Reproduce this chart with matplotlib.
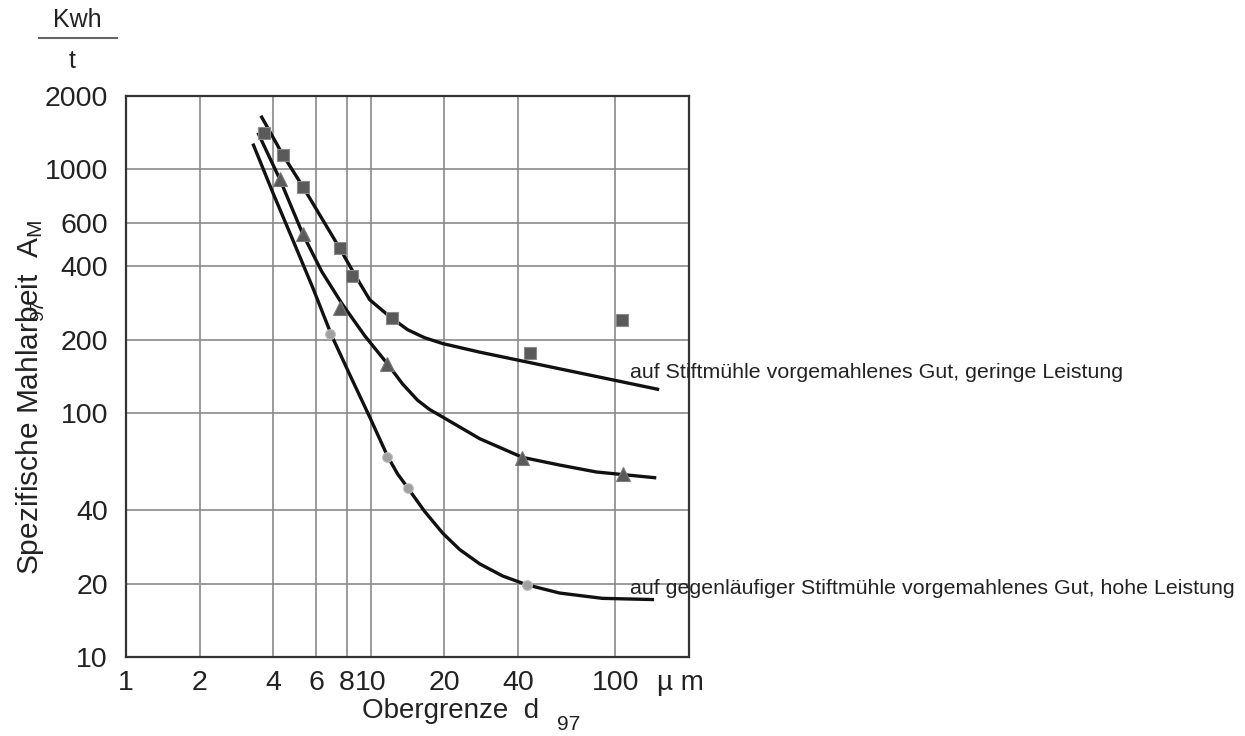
import matplotlib
matplotlib.use("Agg")
import matplotlib.pyplot as plt
from matplotlib.lines import Line2D

plt.rcParams['font.family'] = ['Liberation Sans', 'DejaVu Sans']
plt.rcParams['mathtext.fontset'] = 'custom'
plt.rcParams['mathtext.rm'] = 'Liberation Sans'
plt.rcParams['mathtext.it'] = 'Liberation Sans'

# ---- data ----
x_ticks = [1, 2, 4, 6, 8, 10, 20, 40, 100]
x_tick_labels = ["1", "2", "4", "6", "8", "10", "20", "40", "100"]
y_ticks = [10, 20, 40, 100, 200, 400, 600, 1000, 2000]
y_tick_labels = ["10", "20", "40", "100", "200", "400", "600", "1000", "2000"]

# curve 1: pre-ground on pin mill, low throughput (upper)
curve_low_x = [3.56, 4.37, 5.28, 7.47, 8.69, 9.91, 11.96, 14.16, 16.6, 19.7, 27.9, 42.5, 101, 151]
curve_low_y = [1660, 1150, 850, 475, 364, 292, 249, 220, 204, 193, 178, 163, 136, 125]
# curve 2: middle
curve_mid_x = [3.46, 4.25, 5.28, 6.31, 7.62, 9.45, 11.73, 13.5, 15.55, 17.4, 19.7, 27.9,
               41.7, 59.1, 83.6, 147]
curve_mid_y = [1414, 913, 543, 381, 282, 208, 159, 131.8, 113, 103.6, 96.4, 78.6,
               65.9, 61.3, 57.4, 54.3]
# curve 3: counter-rotating pin mill, high throughput (lower)
curve_high_x = [3.30, 3.98, 4.80, 5.80, 6.93, 8.21, 9.91, 11.73, 12.89, 14.16, 16.6, 19.7,
                23.1, 27.9, 34.6, 43.3, 59.1, 88.5, 144]
curve_high_y = [1276, 804, 515, 327, 208, 144, 96.4, 66.5, 56.3, 49.5, 39.6, 32.2,
                27.6, 24.1, 21.5, 19.8, 18.3, 17.4, 17.2]

# measured points
sq_x = [3.66, 4.37, 5.28, 7.47, 8.37, 12.2, 44.6, 106.8]
sq_y = [1414, 1150, 850, 475, 367, 246, 177, 240]
tri_x = [4.25, 5.28, 7.47, 11.7, 41.7, 107.8]
tri_y = [913, 543, 271, 159, 65.3, 56.3]
circ_x = [6.80, 11.7, 14.2, 43.7]
circ_y = [212, 65.9, 49.5, 19.8]

label_low = "auf Stiftmühle vorgemahlenes Gut, geringe Leistung"
label_high = "auf gegenläufiger Stiftmühle vorgemahlenes Gut, hohe Leistung"

# ---- figure ----
W, H = 1245, 736
fig = plt.figure(figsize=(W / 100, H / 100), dpi=100)
ax = fig.add_axes([126 / W, 1 - 657 / H, (689 - 126) / W, (657 - 96) / H])
ax.set_xscale('log')
ax.set_yscale('log')
ax.set_xlim(1, 200)
ax.set_ylim(10, 2000)

ax.set_xticks(x_ticks)
ax.set_xticklabels(x_tick_labels)
ax.set_yticks(y_ticks)
ax.set_yticklabels(y_tick_labels)
ax.minorticks_off()
ax.tick_params(axis='both', length=0, labelsize=20.5, colors='#222222')
ax.tick_params(axis='x', pad=9)
ax.tick_params(axis='y', pad=13)
ax.grid(True, which='major', color='#8a8a8a', linewidth=1.2)
for s in ax.spines.values():
    s.set_color('#333333')
    s.set_linewidth(1.6)

for cx, cy in [(curve_low_x, curve_low_y), (curve_mid_x, curve_mid_y),
               (curve_high_x, curve_high_y)]:
    ax.plot(cx, cy, color='#111111', linewidth=2.4, solid_capstyle='butt',
            solid_joinstyle='round', zorder=3)

ax.plot(sq_x, sq_y, linestyle='none', marker='s', markersize=8,
        markerfacecolor='#5a5a5a', markeredgecolor='#8a8a8a', markeredgewidth=0.8, zorder=4)
ax.plot(tri_x, tri_y, linestyle='none', marker='^', markersize=10,
        markerfacecolor='#5a5a5a', markeredgecolor='#7a7a7a', markeredgewidth=0.8, zorder=4)
ax.plot(circ_x, circ_y, linestyle='none', marker='o', markersize=7,
        markerfacecolor='#a0a0a0', markeredgecolor='#bdbdbd', markeredgewidth=0.8, zorder=4)

# annotations for the curves
fig.text(630 / W, 1 - 372 / H, label_low, fontsize=15.4, color='#222222',
         ha='left', va='center')
fig.text(630 / W, 1 - 589 / H, label_high, fontsize=15.4, color='#222222',
         ha='left', va='center')

# unit "Kwh / t"
fig.text(77 / W, 1 - 20 / H, "Kwh", fontsize=18, color='#222222', ha='center', va='center')
fig.add_artist(Line2D([39 / W, 117 / W], [1 - 38 / H, 1 - 38 / H],
                      color='#666666', linewidth=1.5))
fig.text(72 / W, 1 - 61 / H, "t", fontsize=18, color='#222222', ha='center', va='center')

# y label
fig.text(30 / W, 1 - 397 / H, r"Spezifische Mahlarbeit  A$_\mathrm{M}$", fontsize=21.5,
         color='#222222', rotation=90, ha='center', va='center')
fig.text(39 / W, 1 - 310 / H, "97", fontsize=14, color='#222222', rotation=90,
         ha='center', va='center')

# x label
fig.text(362 / W, 1 - 711 / H, "Obergrenze  d", fontsize=20, color='#222222',
         ha='left', va='center')
fig.text(557 / W, 1 - 724 / H, "97", fontsize=15, color='#222222',
         ha='left', va='center')
fig.text(657 / W, 1 - 683 / H, "µ m", fontsize=20, color='#222222',
         ha='left', va='center')

fig.savefig("out.png", dpi=100, facecolor='white')
